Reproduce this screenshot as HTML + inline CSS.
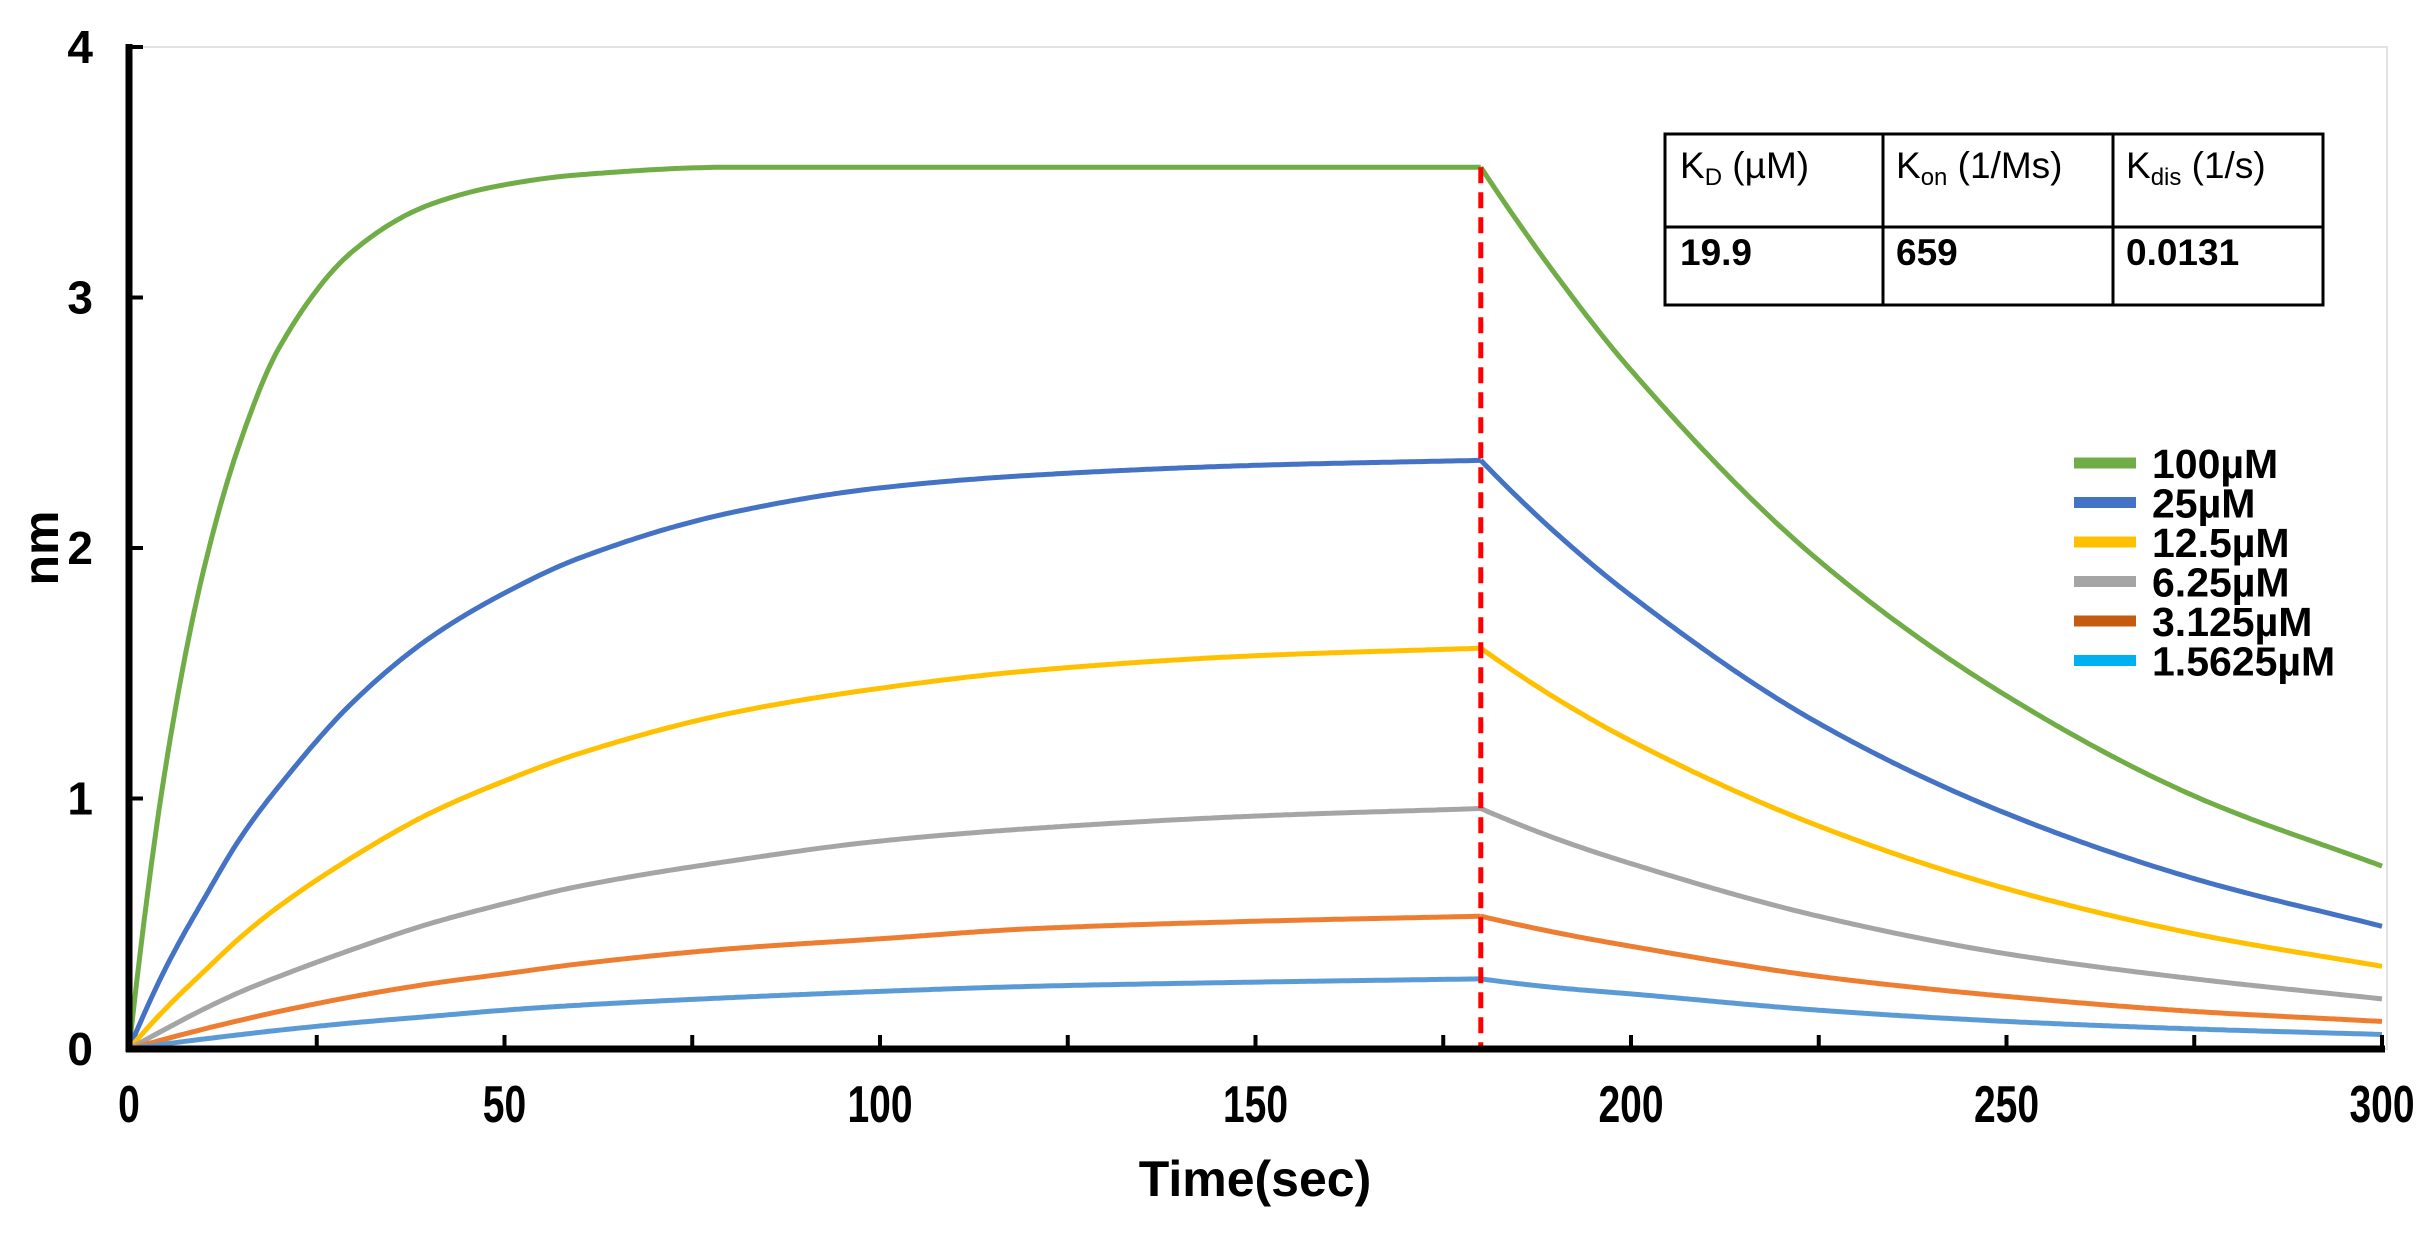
<!DOCTYPE html>
<html><head><meta charset="utf-8"><style>
html,body{margin:0;padding:0;background:#fff;}
svg{display:block;font-family:"Liberation Sans",Arial,sans-serif;}
</style></head><body>
<svg id="chart" width="2436" height="1233" viewBox="0 0 2436 1233">
<rect x="0" y="0" width="2436" height="1233" fill="#fff"/>
<rect x="129" y="47" width="2258" height="1002" fill="none" stroke="#e2e2e2" stroke-width="2"/>
<g id="series"></g>
<g id="axes"></g>
<g font-size="37" fill="#000">
<rect x="1665" y="134" width="658" height="171" fill="#fff" stroke="#000" stroke-width="3"/>
<line x1="1665" y1="227" x2="2323" y2="227" stroke="#000" stroke-width="3"/>
<line x1="1883" y1="134" x2="1883" y2="305" stroke="#000" stroke-width="3"/>
<line x1="2113" y1="134" x2="2113" y2="305" stroke="#000" stroke-width="3"/>
<text x="1680" y="178">K<tspan font-size="24" dy="7">D</tspan><tspan dy="-7"> (µM)</tspan></text>
<text x="1896" y="178">K<tspan font-size="24" dy="7">on</tspan><tspan dy="-7"> (1/Ms)</tspan></text>
<text x="2126" y="178">K<tspan font-size="24" dy="7">dis</tspan><tspan dy="-7"> (1/s)</tspan></text>
<text x="1680" y="265" font-weight="bold">19.9</text>
<text x="1896" y="265" font-weight="bold">659</text>
<text x="2126" y="265" font-weight="bold">0.0131</text>
</g>
<g id="legend"></g>
<text x="1255" y="1196" font-size="50" font-weight="bold" text-anchor="middle">Time(sec)</text>
<text x="0" y="0" font-size="50" font-weight="bold" text-anchor="middle" transform="translate(58,548) rotate(-90)">nm</text>
</svg>
<script>
const times = [0,5,10,15,20,30,40,50,60,80,100,120,150,180,190,200,225,250,275,300];
const green100 = [0,1.15,1.92,2.44,2.80,3.19,3.37,3.45,3.49,3.52,3.52,3.52,3.52,3.52,3.09,2.71,1.95,1.41,1.01,0.73];
const blue25 = [0,0.33,0.60,0.85,1.05,1.39,1.64,1.82,1.96,2.14,2.24,2.29,2.33,2.35,2.06,1.81,1.30,0.94,0.68,0.49];
const yellow12 = [0,0.165,0.31,0.45,0.57,0.77,0.94,1.07,1.18,1.34,1.44,1.51,1.57,1.60,1.40,1.23,0.89,0.64,0.46,0.33];
const gray6 = [0,0.082,0.16,0.23,0.29,0.40,0.50,0.58,0.65,0.75,0.83,0.88,0.93,0.96,0.84,0.74,0.53,0.38,0.28,0.20];
const orange3 = [0,0.041,0.08,0.116,0.15,0.21,0.26,0.30,0.34,0.40,0.44,0.48,0.51,0.53,0.465,0.41,0.29,0.21,0.15,0.11];
const lblue1 = [0,0.021,0.04,0.058,0.075,0.105,0.13,0.155,0.175,0.205,0.23,0.25,0.267,0.28,0.245,0.22,0.155,0.11,0.08,0.058];
const seriesNames = ["100µM","25µM","12.5µM","6.25µM","3.125µM","1.5625µM"];
const seriesKeys = ["100um","25um","12-5um","6-25um","3-125um","1-5625um"];
const seriesData = [green100,blue25,yellow12,gray6,orange3,lblue1];
const lineColors = ["#70AD47","#4472C4","#FFC000","#A5A5A5","#ED7D31","#5B9BD5"];
const legendColors = ["#70AD47","#4472C4","#FFC000","#A5A5A5","#C55A11","#00B0F0"];
const xTicks = [0,50,100,150,200,250,300];
const xMinorTicks = [25,75,125,175,225,275];
const yTicks = [0,1,2,3,4];
const injectionEnd = 180;

const NS = "http://www.w3.org/2000/svg";
const X0=129, X1=2382, Y0=1049, Y1=47;
const xs = t => X0 + (t/300)*(X1-X0);
const ys = v => Y0 - (v/4)*(Y0-Y1);
function mk(tag, attrs, parent){const e=document.createElementNS(NS,tag);for(const k in attrs)e.setAttribute(k,attrs[k]);parent.appendChild(e);return e;}
function monoPath(tx, vy){
  const n=tx.length, d=[], m=new Array(n);
  for(let i=0;i<n-1;i++) d.push((vy[i+1]-vy[i])/(tx[i+1]-tx[i]));
  m[0]=d[0]; m[n-1]=d[n-2];
  for(let i=1;i<n-1;i++){
    if(d[i-1]*d[i]<=0) m[i]=0;
    else { const h0=tx[i]-tx[i-1], h1=tx[i+1]-tx[i]; const w1=2*h1+h0, w2=h1+2*h0; m[i]=(w1+w2)/(w1/d[i-1]+w2/d[i]); }
  }
  if(n>2){
    const h0=tx[1]-tx[0], h1=tx[2]-tx[1];
    let s=((2*h0+h1)*d[0]-h0*d[1])/(h0+h1);
    if(s*d[0]<=0) s=0; else if(Math.abs(s)>3*Math.abs(d[0])) s=3*d[0];
    m[0]=s;
  }
  let out="M"+xs(tx[0]).toFixed(1)+","+ys(vy[0]).toFixed(1);
  for(let i=0;i<n-1;i++){
    const h=tx[i+1]-tx[i], steps=Math.max(6,Math.round(h*2));
    for(let k=1;k<=steps;k++){
      const t=k/steps, t2=t*t, t3=t2*t;
      const v=(2*t3-3*t2+1)*vy[i]+(t3-2*t2+t)*h*m[i]+(-2*t3+3*t2)*vy[i+1]+(t3-t2)*h*m[i+1];
      out+=" L"+xs(tx[i]+t*h).toFixed(1)+","+ys(v).toFixed(1);
    }
  }
  return out;
}
const sg=document.getElementById("series");
const split=times.indexOf(injectionEnd);
seriesData.forEach((vals,si)=>{
  const d=monoPath(times.slice(0,split+1),vals.slice(0,split+1))+" "+monoPath(times.slice(split),vals.slice(split));
  const p=mk("path",{d:d,fill:"none",stroke:lineColors[si],"stroke-width":5,"stroke-linejoin":"round"},sg);
  
  
});
const maxAt=Math.max(...seriesData.map(s=>s[split]));
const dl=mk("line",{x1:xs(injectionEnd),y1:ys(maxAt),x2:xs(injectionEnd),y2:Y0,stroke:"#FF0000","stroke-width":5,"stroke-dasharray":"16,9"},sg);



const ag=document.getElementById("axes");
const ya=mk("line",{x1:X0,y1:Y1-3,x2:X0,y2:Y0+3,stroke:"#000","stroke-width":7},ag);


const xa=mk("line",{x1:X0-3,y1:Y0,x2:X1+3,y2:Y0,stroke:"#000","stroke-width":7},ag);


yTicks.forEach(v=>{
  const tk=mk("line",{x1:X0,y1:ys(v),x2:X0+14,y2:ys(v),stroke:"#000","stroke-width":4},ag);
  
  
  const tl=mk("text",{x:0,y:0,"font-size":46,"font-weight":"bold","text-anchor":"end",transform:"translate(93,"+(ys(v)+16)+")"},ag);
  tl.textContent=String(v);
  
  
});
xTicks.concat(xMinorTicks).forEach(v=>{
  const tk=mk("line",{x1:xs(v),y1:Y0,x2:xs(v),y2:Y0-14,stroke:"#000","stroke-width":4},ag);
  
  
});
xTicks.forEach(v=>{
  const tl=mk("text",{x:0,y:0,"font-size":52,"font-weight":"bold","text-anchor":"middle",transform:"translate("+xs(v)+",1122) scale(0.75,1)"},ag);
  tl.textContent=String(v);
  
  
});
const lg=document.getElementById("legend");
seriesNames.forEach((n,i)=>{
  const y=463+i*39.5;
  const g=mk("g",{},lg);
  
  
  const sw=mk("line",{x1:2074,y1:y,x2:2136,y2:y,stroke:legendColors[i],"stroke-width":11},g);
  
  
  const tx=mk("text",{x:2152,y:y+15,"font-size":41,"font-weight":"bold"},g);
  tx.textContent=n;
  
  
});
</script>
</body></html>
